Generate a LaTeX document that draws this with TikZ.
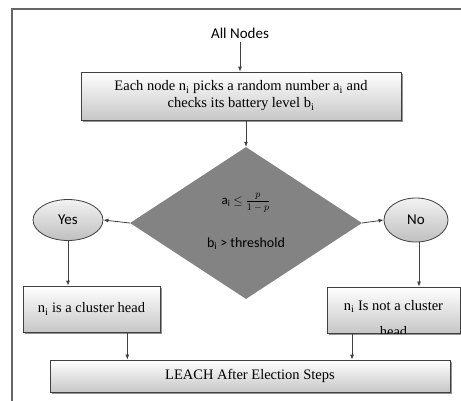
\documentclass[tikz,border=0pt]{standalone}
\usepackage{fontspec}
\setmainfont{Liberation Serif}
\newfontfamily\calib{Carlito}
\usetikzlibrary{shapes.geometric,shadows,arrows.meta,calc}
\definecolor{edge}{HTML}{404040}
\definecolor{dia}{HTML}{838383}
\tikzset{
  boxst/.style={draw=edge, line width=0.8pt, top color=white, bottom color=black!22,
    drop shadow={shadow xshift=2pt, shadow yshift=-2pt, fill=black!70, opacity=0.6},
    inner sep=0pt, font=\fontsize{14.5}{17}\selectfont, align=center},
  ovalst/.style={ellipse, draw=edge, line width=0.8pt, top color=black!5, bottom color=black!25,
    inner sep=0pt, font=\calib\fontsize{15}{17}\selectfont},
  arr/.style={draw=edge, line width=0.8pt, -{Latex[length=5pt,width=4pt]}},
}
\begin{document}
\begin{tikzpicture}[x=1pt,y=-1pt]
\useasboundingbox (0,0) rectangle (461,400);
\draw[edge!80, line width=1.2pt] (12,402) -- (12,9) -- (463,9);
\node[font=\calib\fontsize{15}{17}\selectfont] (all) at (240,33) {All Nodes};
\node[boxst, minimum width=320pt, minimum height=48pt] (box1) at (241,96)
  {Each node n\textsubscript{i} picks a random number a\textsubscript{i} and\\checks its battery level b\textsubscript{i}};
\node[diamond, fill=dia, minimum width=232pt, minimum height=152pt, aspect=1.53, inner sep=0pt] (dia) at (246,223) {};
\node[font=\calib\fontsize{13}{15}\selectfont] (cond1) at (246,203) {a\textsubscript{i} $\leq$ \fontsize{10}{12}\selectfont$\displaystyle\frac{p}{1-p}$};
\node[font=\calib\fontsize{14}{16}\selectfont] (cond2) at (246,244) {b\textsubscript{i} > threshold};
\node[ovalst, minimum width=70pt, minimum height=41pt] (yes) at (68,220) {Yes};
\node[ovalst, minimum width=64pt, minimum height=44pt] (no) at (416,220) {No};
\node[boxst, minimum width=137pt, minimum height=46pt] (byes) at (91.5,309) {n\textsubscript{i} is a cluster head};
\node[boxst, minimum width=133pt, minimum height=46pt] (bno) at (393.5,310) {};
\begin{scope}
\clip (bno.south west) rectangle (bno.north east);
\node[font=\fontsize{14.5}{26}\selectfont, align=center, anchor=north] (bnotext) at ($(bno.north)+(0,10)$) {n\textsubscript{i} Is not a cluster\\head};
\end{scope}
\node[boxst, minimum width=400pt, minimum height=32pt] (leach) at (250,376) {LEACH After Election Steps};
\draw[arr] (all.south) -- (box1.north -| all.south);
\draw[arr] (box1.south -| dia.north) -- (dia.north);
\draw[arr] (dia.west) -- (yes.east);
\draw[arr] (dia.east) -- (no.west);
\draw[arr] (yes.south) -- (byes.north -| yes.south);
\draw[arr] ($(no.south)+(3,0)$) -- ($(bno.north -| no.south)+(3,0)$);
\draw[arr] ($(byes.south west)!0.76!(byes.south east)$) coordinate (c1) -- (leach.north -| c1);
\draw[arr] ($(bno.south west)!0.19!(bno.south east)$) coordinate (c2) -- (leach.north -| c2);
\end{tikzpicture}
\end{document}
